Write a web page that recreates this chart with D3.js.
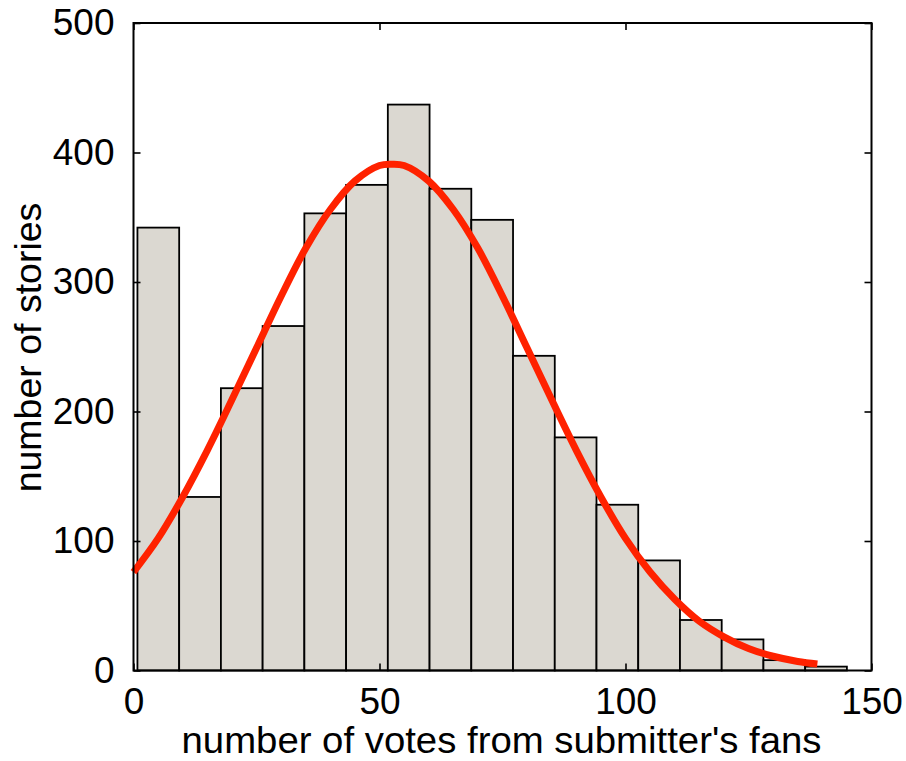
<!DOCTYPE html>
<html>
<head>
<meta charset="utf-8">
<script src="https://cdn.jsdelivr.net/npm/d3@7"></script>
<style>
  html, body { margin: 0; padding: 0; background: #fff; }
  svg { display: block; }
  text { font-family: "Liberation Sans", Arial, sans-serif; fill: #000; }
</style>
</head>
<body>
<svg id="chart" width="906" height="761"></svg>
<script>
// Histogram of story counts by votes from the submitter's fans
const binLow = 0.8;        // left edge of first bin
const binHigh = 145;       // right edge of last bin
const counts = [342, 134, 218, 266, 353, 375, 437, 372, 348, 243, 180, 128, 85, 39, 24, 8, 3];

// Fitted curve, sampled along the x axis
const fitX = [0, 5, 10, 15, 20, 25, 30, 35, 40, 45, 50, 52.5, 55, 60, 65, 70, 75, 80, 85, 90, 95, 100, 105, 110, 115, 120, 125, 130, 135, 139];
const fitY = [76, 102, 134, 170, 209, 249, 289, 326, 356, 378, 390, 391, 390, 378, 356, 326, 289, 249, 209, 170, 134, 102, 76, 55, 38, 26, 17, 11, 7, 5];

const xTicks = [0, 50, 100, 150];
const yTicks = [0, 100, 200, 300, 400, 500];

const svg = d3.select("#chart");
const plotLeft = 133.5, plotRight = 871.5, plotTop = 23, plotBottom = 670.5;

const x = d3.scaleLinear().domain([0, 150]).range([plotLeft, plotRight]);
const y = d3.scaleLinear().domain([0, 500]).range([plotBottom, plotTop]);

const binW = (binHigh - binLow) / counts.length;
const bins = counts.map((c, i) => ({ x0: binLow + i * binW, x1: binLow + (i + 1) * binW, c }));

// bars
svg.append("g").selectAll("rect").data(bins).join("rect")
  .attr("x", d => x(d.x0))
  .attr("y", d => y(d.c))
  .attr("width", d => x(d.x1) - x(d.x0))
  .attr("height", d => y(0) - y(d.c))
  .attr("fill", "#dbd8d1")
  .attr("stroke", "#000")
  .attr("stroke-width", 1.8);

// fitted curve
const line = d3.line()
  .x((d, i) => x(fitX[i]))
  .y(d => y(d))
  .curve(d3.curveCatmullRom);
svg.append("path")
  .attr("d", line(fitY))
  .attr("fill", "none")
  .attr("stroke", "#ff2200")
  .attr("stroke-width", 7);

// axes with inward ticks on all four sides
const tickLen = 7;
const axisStyle = g => {
  g.select(".domain").remove();
  g.selectAll(".tick line").attr("stroke", "#000").attr("stroke-width", 1.6);
  g.selectAll(".tick text").style("font-size", "37px").style("font-family", "Liberation Sans, Arial, sans-serif");
};

svg.append("g").attr("transform", `translate(0,${plotBottom})`)
  .call(d3.axisBottom(x).tickValues(xTicks).tickSize(-tickLen).tickPadding(17).tickFormat(d3.format("d")))
  .call(axisStyle);
svg.append("g").attr("transform", `translate(0,${plotTop})`)
  .call(d3.axisTop(x).tickValues(xTicks).tickSize(-tickLen).tickFormat(""))
  .call(axisStyle);
svg.append("g").attr("transform", `translate(${plotLeft},0)`)
  .call(d3.axisLeft(y).tickValues(yTicks).tickSize(-tickLen).tickPadding(19).tickFormat(d3.format("d")))
  .call(axisStyle);
svg.append("g").attr("transform", `translate(${plotRight},0)`)
  .call(d3.axisRight(y).tickValues(yTicks).tickSize(-tickLen).tickFormat(""))
  .call(axisStyle);

// frame
svg.append("rect")
  .attr("x", plotLeft).attr("y", plotTop)
  .attr("width", plotRight - plotLeft).attr("height", plotBottom - plotTop)
  .attr("fill", "none").attr("stroke", "#000").attr("stroke-width", 2);

// axis titles
svg.append("text")
  .attr("x", (plotLeft + plotRight) / 2 - 1)
  .attr("y", 753)
  .attr("text-anchor", "middle")
  .style("font-size", "37.5px")
  .attr("textLength", 640)
  .attr("lengthAdjust", "spacingAndGlyphs")
  .text("number of votes from submitter's fans");

svg.append("text")
  .attr("transform", `translate(41,${(203 + 492) / 2}) rotate(-90)`)
  .attr("text-anchor", "middle")
  .style("font-size", "37.5px")
  .text("number of stories");
</script>
</body>
</html>
